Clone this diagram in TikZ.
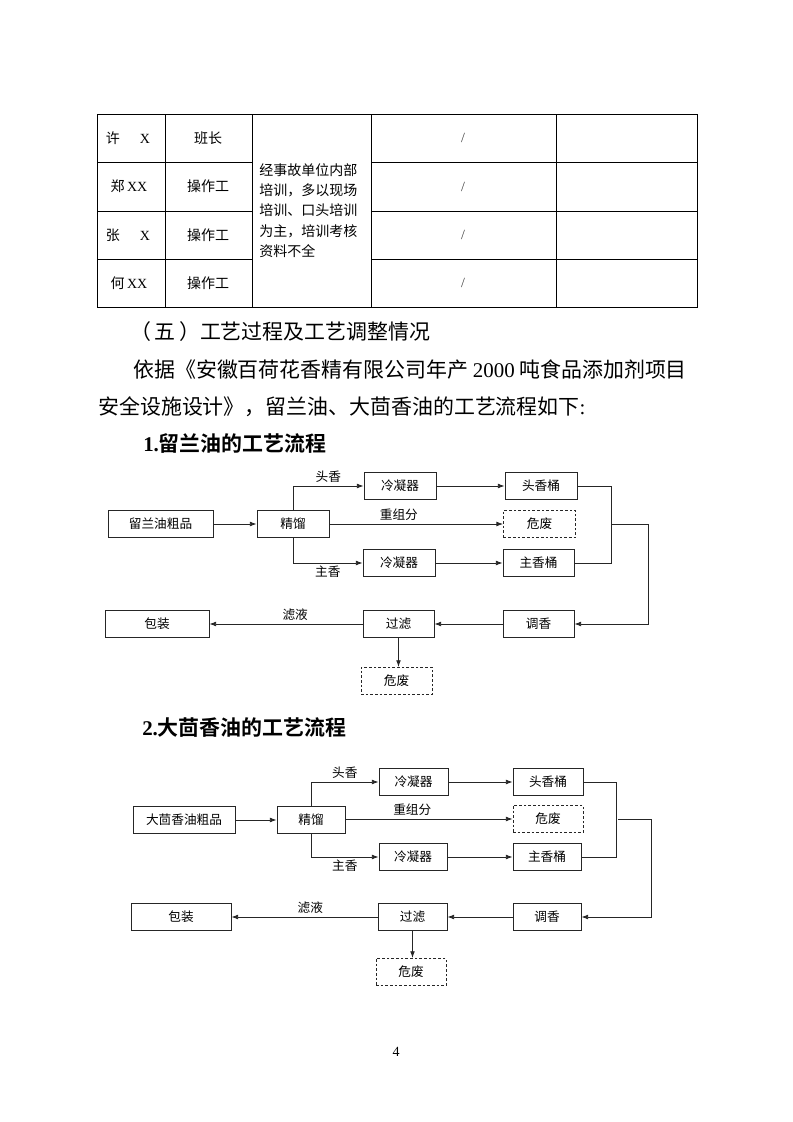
\documentclass[tikz,border=0pt]{standalone}
\usepackage{fontspec}
\setmainfont{Liberation Serif}
\newfontfamily\cjk[BoldFont={Noto Sans CJK SC Bold}]{Noto Sans CJK SC}
\usepackage{tikz}
\usetikzlibrary{calc,arrows,arrows.meta}
\usepackage{xcolor}

\begin{document}
\begin{tikzpicture}[x=0.75pt,y=-0.75pt,
	blk/.style={draw=black!85,line width=0.6pt,minimum height=20.5pt,inner sep=0pt,font=\cjk\fontsize{9.5}{11}\selectfont},
	wst/.style={blk,dash pattern=on 2pt off 1.5pt},
	lbl/.style={inner sep=0pt,font=\cjk\fontsize{9.5}{11}\selectfont},
	flw/.style={-{Latex[length=5pt,width=3.6pt]},draw=black!85,line width=0.6pt},
	cell/.style={inner sep=0pt,font=\cjk\fontsize{10.5}{12}\selectfont},
	txt/.style={anchor=west,inner sep=0pt,font=\cjk\fontsize{15.7}{18}\selectfont}]
	\useasboundingbox (0,0) rectangle (793,1122);
	\def\lw{0.65pt};
	
	% table
	\draw[line width=\lw] (97,114) rectangle (697,307);
	\foreach \yy in {162,211,259} {
		\draw[line width=\lw] (97,\yy) -- (252,\yy);
		\draw[line width=\lw] (371,\yy) -- (697,\yy);
	}
	\foreach \xx in {165,252,371,556}
		\draw[line width=\lw] (\xx,114) -- (\xx,307);
	
	\node[cell] (n1) at (128,138) {许\hspace{15pt}{\rmfamily X}};
	\node[cell] (n2) at (129,186.5) {郑\,{\rmfamily XX}};
	\node[cell] (n3) at (128,235) {张\hspace{15pt}{\rmfamily X}};
	\node[cell] (n4) at (129,283) {何\,{\rmfamily XX}};
	\node[cell] (r1) at (208,138) {班长};
	\node[cell] (r2) at (208,186.5) {操作工};
	\node[cell] (r3) at (208,235) {操作工};
	\node[cell] (r4) at (208,283) {操作工};
	\node[cell,anchor=west,align=left,font=\cjk\fontsize{10.5}{15.2}\selectfont] (tr) at (259,210.5)
		{经事故单位内部\\培训，多以现场\\培训、口头培训\\为主，培训考核\\资料不全};
	\foreach \yy/\nm in {138/s1,186.5/s2,235/s3,283/s4}
		\node[cell,font=\rmfamily\fontsize{10.5}{12}\selectfont,text=black!75] (\nm) at (463,\yy) {/};
	
	% text
	\node[txt] (h5) at (130,332) {（\,五\,）工艺过程及工艺调整情况};
	\node[txt] (p1a) at (133,370) {依据《安徽百荷花香精有限公司年产 {\rmfamily 2000} 吨食品添加剂项目};
	\node[txt] (p1b) at (98,407) {安全设施设计》，留兰油、大茴香油的工艺流程如下{\rmfamily :}};
	\node[txt,font=\cjk\bfseries\fontsize{15.7}{18}\selectfont] (hd1) at (143,443) {{\rmfamily\bfseries 1.}留兰油的工艺流程};
	\node[txt,font=\cjk\bfseries\fontsize{15.7}{18}\selectfont] (hd2) at (142,728) {{\rmfamily\bfseries 2.}大茴香油的工艺流程};
	\node[inner sep=0pt,font=\rmfamily\fontsize{10.5}{12}\selectfont] (pg) at (396,1052) {4};
	
	% flow 1
	\node[blk,minimum width=78.75pt] (c1) at (160.5,524) {留兰油粗品};
	\node[blk,minimum width=54pt] (d1) at (293,524) {精馏};
	\node[blk,minimum width=54pt] (k1a) at (400,486) {冷凝器};
	\node[blk,minimum width=54pt] (k1b) at (399,563) {冷凝器};
	\node[blk,minimum width=54pt] (t1) at (541,486) {头香桶};
	\node[wst,minimum width=54pt] (w1) at (539.5,524) {危废};
	\node[blk,minimum width=53.25pt] (m1) at (538.5,563) {主香桶};
	\node[blk,minimum width=53.25pt] (b1) at (538.5,624) {调香};
	\node[blk,minimum width=53.25pt] (f1) at (398.5,624) {过滤};
	\node[blk,minimum width=78pt] (q1) at (157,624) {包装};
	\node[wst,minimum width=53.25pt] (v1) at (396.5,681) {危废};
	
	\draw[flw] (c1) -- (d1);
	\draw[flw] (d1.north) |- (k1a.west) node[lbl,pos=0.75,above=2pt] {头香};
	\draw[flw] (d1.south) |- (k1b.west) node[lbl,pos=0.75,below=2pt] {主香};
	\draw[flw] (d1) -- (w1) node[lbl,pos=0.4,above=2pt] {重组分};
	\draw[flw] (k1a) -- (t1);
	\draw[flw] (k1b) -- (m1);
	\draw[line width=0.6pt,black!85] (t1.east) -- ++(34,0) |- (m1.east);
	\coordinate (j1) at (612,524);
	\draw[flw] (j1) -- ++(36,0) |- (b1.east);
	\draw[flw] (b1) -- (f1);
	\draw[flw] (f1) -- (q1) node[lbl,pos=0.44,above=2pt] {滤液};
	\draw[flw] (f1.south) -- (f1.south |- v1.north);
	
	% flow 2
	\node[blk,minimum width=76.5pt] (c2) at (184,820) {大茴香油粗品};
	\node[blk,minimum width=51pt] (d2) at (311,820) {精馏};
	\node[blk,minimum width=51.75pt] (k2a) at (413.5,782) {冷凝器};
	\node[blk,minimum width=51pt] (k2b) at (413,857) {冷凝器};
	\node[blk,minimum width=52.5pt] (t2) at (548,782) {头香桶};
	\node[wst,minimum width=52.5pt] (w2) at (548,819) {危废};
	\node[blk,minimum width=51pt] (m2) at (547,857) {主香桶};
	\node[blk,minimum width=51pt] (b2) at (547,917) {调香};
	\node[blk,minimum width=51.75pt] (f2) at (412.5,917) {过滤};
	\node[blk,minimum width=75pt] (q2) at (181,917) {包装};
	\node[wst,minimum width=52.5pt] (v2) at (411,972) {危废};
	
	\draw[flw] (c2) -- (d2);
	\draw[flw] (d2.north) |- (k2a.west) node[lbl,pos=0.75,above=2pt] {头香};
	\draw[flw] (d2.south) |- (k2b.west) node[lbl,pos=0.75,below=2pt] {主香};
	\draw[flw] (d2.east |- w2) -- (w2.west) node[lbl,pos=0.4,above=2pt] {重组分};
	\draw[flw] (k2a) -- (t2);
	\draw[flw] (k2b) -- (m2);
	\draw[line width=0.6pt,black!85] (t2.east) -- ++(33,0) |- (m2.east);
	\coordinate (j2) at (618,819);
	\draw[flw] (j2) -- ++(33,0) |- (b2.east);
	\draw[flw] (b2) -- (f2);
	\draw[flw] (f2) -- (q2) node[lbl,pos=0.46,above=2pt] {滤液};
	\draw[flw] (f2.south) -- (f2.south |- v2.north);
\end{tikzpicture}
\end{document}
